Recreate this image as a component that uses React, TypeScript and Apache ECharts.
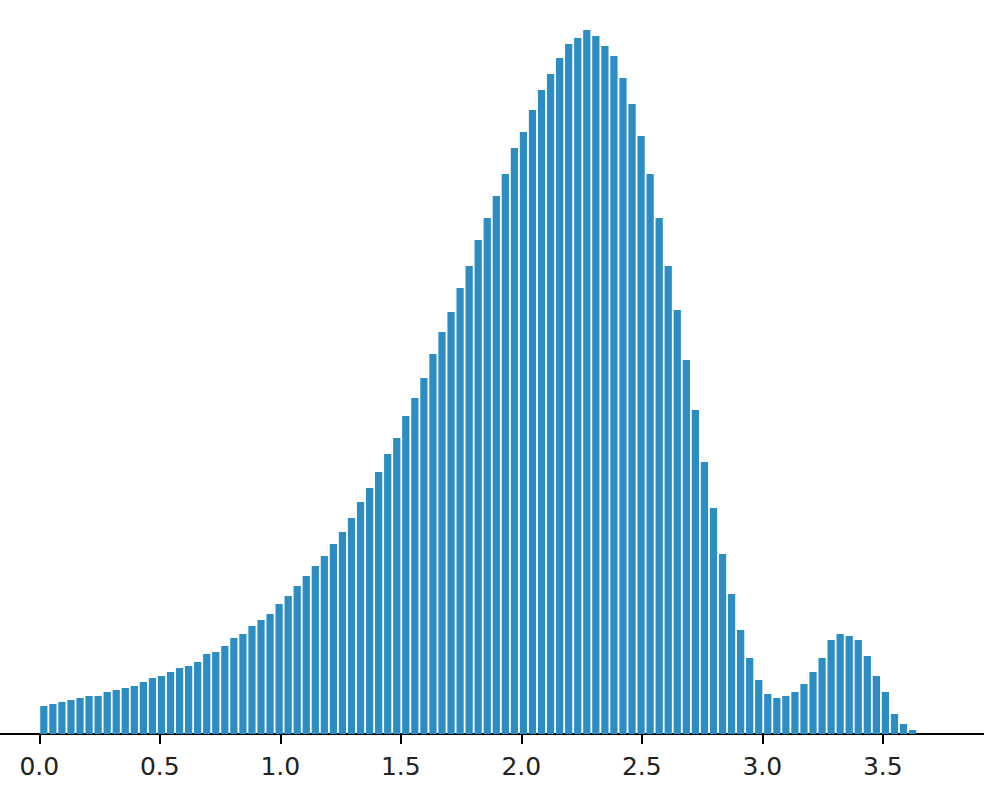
import React, { useEffect, useRef } from "react";
import * as echarts from "echarts";

// Histogram bin width (x units) and bar heights (counts)
const BIN_WIDTH = 0.03755;
const counts: number[] = [
  28, 30, 32, 34, 36, 38, 38, 42, 44, 46, 48, 52, 56, 58, 62, 66, 68, 72, 80, 82,
  88, 96, 100, 108, 114, 120, 130,
  138, 148, 158, 168, 178, 190, 202, 216, 232, 246, 262, 280, 296, 318, 336, 356, 380,
  402, 422, 446, 468, 494, 516, 538, 560, 586, 602, 624, 644, 660, 676, 690, 696, 704,
  698, 688, 678, 656, 630, 598, 560, 516, 468, 424,
  374, 324, 272, 226, 180, 140,
  104, 76, 54, 40, 36, 38, 42, 50, 62, 76, 94, 100, 98, 94, 78, 58, 42, 20, 10, 4,
];
const tickValues: number[] = [0, 0.5, 1.0, 1.5, 2.0, 2.5, 3.0, 3.5];

const X_MIN = -0.1631;
const X_MAX = 3.92;
const BAR_COLOR = "#2c8dc3";
const RWIDTH = 0.8;

export default function App() {
  const ref = useRef<HTMLDivElement>(null);

  useEffect(() => {
    if (!ref.current) return;
    const chart = echarts.init(ref.current, undefined, { renderer: "svg" });
    const data = counts.map((c, i) => [i * BIN_WIDTH, (i + 1) * BIN_WIDTH, c]);
    chart.setOption({
      animation: false,
      grid: { left: 0, right: 0, top: 0, bottom: 54, containLabel: false },
      xAxis: {
        type: "value",
        min: X_MIN,
        max: X_MAX,
        splitLine: { show: false },
        axisLine: { show: true, onZero: false, lineStyle: { color: "#000", width: 2 } },
        axisTick: {
          show: true,
          customValues: tickValues,
          length: 10,
          lineStyle: { color: "#000", width: 2 },
        },
        axisLabel: {
          show: true,
          customValues: tickValues,
          formatter: (v: number) => v.toFixed(1),
          fontFamily: "DejaVu Sans",
          fontSize: 25,
          color: "#222",
          margin: 20,
        },
      },
      yAxis: {
        type: "value",
        min: 0,
        max: 734,
        show: false,
        splitLine: { show: false },
      },
      series: [
        {
          type: "custom",
          data,
          encode: { x: [0, 1], y: 2 },
          renderItem: (params: any, api: any) => {
            const start = api.value(0);
            const end = api.value(1);
            const h = api.value(2);
            const w = end - start;
            const l = start + (w * (1 - RWIDTH)) / 2;
            const r = end - (w * (1 - RWIDTH)) / 2;
            const p0 = api.coord([l, 0]);
            const p1 = api.coord([r, h]);
            return {
              type: "rect",
              shape: { x: p0[0], y: p1[1], width: p1[0] - p0[0], height: p0[1] - p1[1] },
              style: { fill: BAR_COLOR },
            };
          },
        },
      ],
    });
    return () => chart.dispose();
  }, []);

  return (
    <div
      ref={ref}
      style={{ position: "fixed", left: 0, top: 0, width: 984, height: 788, background: "#fff" }}
    />
  );
}
